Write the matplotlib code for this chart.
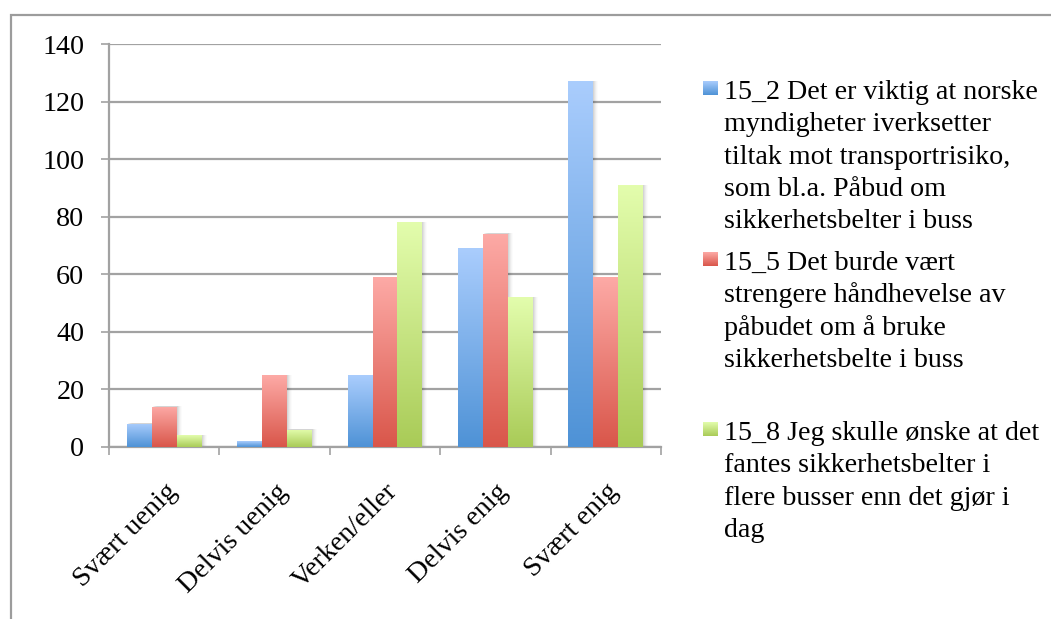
import numpy as np
import matplotlib
matplotlib.use("Agg")
import matplotlib.pyplot as plt
import matplotlib.transforms as mtransforms
from matplotlib.colors import LinearSegmentedColormap
from matplotlib.patches import Rectangle

# ---- data ----
categories = ["Svært uenig", "Delvis uenig", "Verken/eller", "Delvis enig", "Svært enig"]
q15_2 = [8, 2, 25, 69, 127]
q15_5 = [14, 25, 59, 74, 59]
q15_8 = [4, 6, 78, 52, 91]
series_labels = [
    "15_2 Det er viktig at norske\nmyndigheter iverksetter\ntiltak mot transportrisiko,\nsom bl.a. Påbud om\nsikkerhetsbelter i buss",
    "15_5 Det burde vært\nstrengere håndhevelse av\npåbudet om å bruke\nsikkerhetsbelte i buss",
    "15_8 Jeg skulle ønske at det\nfantes sikkerhetsbelter i\nflere busser enn det gjør i\ndag",
]
y_ticks = [0, 20, 40, 60, 80, 100, 120, 140]

# (top colour, bottom colour) of each series' gradient fill
gradients = [("#aacdfd", "#4e92d6"), ("#fdaaa6", "#d9564a"), ("#e3fdad", "#a9cb57")]

plt.rcParams["font.family"] = ["Liberation Serif", "DejaVu Serif"]
FS = 20.2
GRID = "#a2a2a2"
W, H = 1051, 619

fig = plt.figure(figsize=(W / 100, H / 100), dpi=100)

# chart-area frame (only its top and left edges fall inside the canvas)
fig.patches.append(Rectangle((11 / W, -0.05), 1.2, (H - 15) / H + 0.05,
                             transform=fig.transFigure, fill=False,
                             ec="#9c9c9c", lw=1.6))

ax = fig.add_axes([109 / W, 1 - 447 / H, 552 / W, 403 / H])
ax.set_xlim(-0.5, len(categories) - 0.5)
ax.set_ylim(0, 140)

# gridlines and axes
ax.set_yticks(y_ticks)
ax.yaxis.grid(True, color=GRID, lw=1.6, zorder=0)
ax.set_axisbelow(True)
for side in ("top", "right"):
    ax.spines[side].set_visible(False)
for side in ("left", "bottom"):
    ax.spines[side].set_color(GRID)
    ax.spines[side].set_linewidth(1.6)
ax.tick_params(axis="y", length=5.8, width=1.2, color=GRID, pad=12,
               labelsize=FS, labelcolor="black")
ax.set_yticklabels([str(t) for t in y_ticks])

x = np.arange(len(categories))
ax.set_xticks(x)
ax.set_xticklabels([])
ax.tick_params(axis="x", which="major", length=0)
ax.set_xticks(np.arange(len(categories) + 1) - 0.5, minor=True)
ax.tick_params(axis="x", which="minor", length=5.8, width=1.2, color=GRID)

# category labels, rotated 45 degrees
lab_tr = ax.get_xaxis_transform() + mtransforms.ScaledTranslation(9 / 100, -41 / 100, fig.dpi_scale_trans)
for xi, name in zip(x, categories):
    ax.text(xi, 0, name, transform=lab_tr, rotation=45, rotation_mode="anchor",
            ha="right", va="center", fontsize=FS)

# bars with vertical gradient and a soft right-hand shadow
bw = 0.226
grad = np.linspace(0, 1, 256).reshape(-1, 1)
for k, (vals, (c_top, c_bot)) in enumerate(zip([q15_2, q15_5, q15_8], gradients)):
    cmap = LinearSegmentedColormap.from_list(f"g{k}", [c_top, c_bot])
    bars = ax.bar(x + (k - 1) * bw, vals, width=bw, color="none", edgecolor="none", zorder=3)
    for rect in bars:
        x0, w, h = rect.get_x(), rect.get_width(), rect.get_height()
        for dx, a in ((1.0, 0.05), (2.0, 0.045), (3.0, 0.035), (4.0, 0.025), (5.0, 0.015)):
            sh_tr = ax.transData + mtransforms.ScaledTranslation(dx / 100, 0.5 / 100, fig.dpi_scale_trans)
            ax.add_patch(Rectangle((x0, 0), w, h, transform=sh_tr, fc="black",
                                   ec="none", alpha=a, zorder=2.5, clip_on=True))
        img = ax.imshow(grad, extent=[x0, x0 + w, 0, h], origin="upper", aspect="auto",
                        cmap=cmap, interpolation="bilinear", zorder=3)
        img.set_clip_path(rect)

ax.set_xlim(-0.5, len(categories) - 0.5)
ax.set_ylim(0, 140)

# legend: colour square plus wrapped label lines
legend_baselines = [99, 270, 440]
line_pitch = 32.3
for (c_top, c_bot), label, base in zip(gradients, series_labels, legend_baselines):
    cmap = LinearSegmentedColormap.from_list("leg", [c_top, c_bot])
    sq = fig.add_axes([703 / W, 1 - (base - 4) / H, 15 / W, 14 / H])
    sq.imshow(grad, cmap=cmap, aspect="auto", origin="upper")
    sq.set_axis_off()
    for j, line in enumerate(label.split("\n")):
        fig.text(724 / W, 1 - (base + j * line_pitch) / H, line, fontsize=FS,
                 ha="left", va="baseline")

fig.savefig("out.png", dpi=100)
